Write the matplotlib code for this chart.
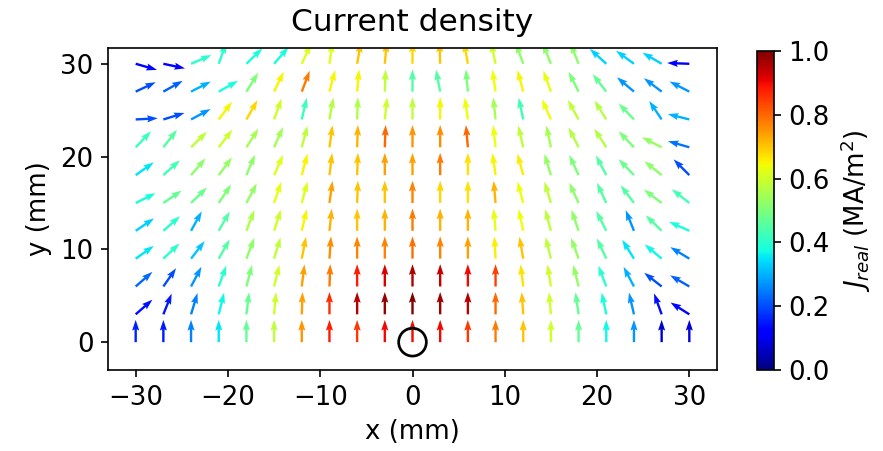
import numpy as np
import matplotlib
matplotlib.use("Agg")
import matplotlib.pyplot as plt
from matplotlib.patches import Circle

# grid positions (mm)
x_vals = [-30, -27, -24, -21, -18, -15, -12, -9, -6, -3, 0, 3, 6, 9, 12, 15, 18, 21, 24, 27, 30]
y_vals = [0, 3, 6, 9, 12, 15, 18, 21, 24, 27, 30]

# arrow directions (degrees, counter-clockwise from +x), one row per y value
ang_y0 = [90]*21
ang_y3 = [41, 68, 73, 76, 83, 85, 88, 90, 90, 90, 90, 90, 90, 90, 94, 95, 98, 102, 103, 110, 148]
ang_y6 = [41, 55, 62, 70, 75, 76, 83, 88, 90, 90, 90, 90, 90, 90, 97, 99, 104, 111, 118, 142, 150]
ang_y9 = [35, 43, 52, 60, 69, 73, 79, 86, 90, 90, 90, 90, 90, 93, 100, 104, 110, 115, 122, 140, 149]
ang_y12 = [34, 41, 61, 60, 69, 72, 77, 84, 90, 90, 90, 90, 90, 95, 102, 105, 109, 117, 112, 136, 156]
ang_y15 = [26, 34, 44, 56, 62, 71, 75, 82, 88, 90, 90, 90, 90, 95, 105, 107, 115, 115, 127, 143, 142]
ang_y18 = [35, 42, 49, 53, 67, 66, 75, 83, 88, 90, 90, 90, 90, 98, 105, 107, 115, 118, 134, 141, 135]
ang_y21 = [46, 52, 44, 52, 57, 66, 75, 82, 88, 88, 90, 90, 95, 96, 103, 102, 117, 123, 134, 153, 164]
ang_y24 = [3, 17, 28, 53, 60, 70, 77, 80, 88, 84, 90, 90, 98, 96, 102, 114, 119, 122, 134, 124, 166]
ang_y27 = [25, 29, 27, 29, 58, 64, 69, 75, 85, 88, 90, 101, 95, 98, 105, 110, 117, 128, 140, 143, 153]
ang_y30 = [-16, -12, 23, 70, 44, 49, 65, 82, 80, 85, 90, 92, 100, 102, 110, 112, 112, 138, 144, 150, 178]

# current density magnitude (MA/m^2)
mag_y0 = [0.16, 0.15, 0.25, 0.35, 0.47, 0.58, 0.75, 0.88, 0.85, 0.9, 0.9, 0.9, 0.85, 0.78, 0.7, 0.6, 0.47, 0.37, 0.27, 0.07, 0.08]
mag_y3 = [0.14, 0.15, 0.25, 0.37, 0.47, 0.6, 0.74, 0.86, 0.95, 0.98, 1.0, 0.97, 0.95, 0.8, 0.7, 0.6, 0.47, 0.38, 0.27, 0.14, 0.13]
mag_y6 = [0.23, 0.2, 0.27, 0.4, 0.5, 0.6, 0.74, 0.78, 0.88, 0.92, 0.96, 0.94, 0.9, 0.84, 0.67, 0.6, 0.53, 0.4, 0.3, 0.2, 0.22]
mag_y9 = [0.35, 0.4, 0.32, 0.45, 0.52, 0.58, 0.7, 0.76, 0.77, 0.77, 0.79, 0.77, 0.74, 0.66, 0.7, 0.58, 0.53, 0.45, 0.35, 0.37, 0.25]
mag_y12 = [0.33, 0.4, 0.3, 0.45, 0.56, 0.6, 0.65, 0.72, 0.7, 0.72, 0.78, 0.72, 0.72, 0.63, 0.64, 0.58, 0.52, 0.45, 0.27, 0.45, 0.38]
mag_y15 = [0.38, 0.47, 0.48, 0.5, 0.53, 0.63, 0.62, 0.74, 0.7, 0.7, 0.77, 0.68, 0.67, 0.72, 0.64, 0.58, 0.52, 0.45, 0.45, 0.5, 0.43]
mag_y18 = [0.35, 0.43, 0.52, 0.53, 0.52, 0.62, 0.65, 0.7, 0.7, 0.74, 0.74, 0.78, 0.67, 0.65, 0.66, 0.53, 0.5, 0.45, 0.48, 0.52, 0.2]
mag_y21 = [0.42, 0.45, 0.58, 0.6, 0.55, 0.55, 0.58, 0.7, 0.72, 0.8, 0.75, 0.76, 0.8, 0.64, 0.58, 0.55, 0.57, 0.57, 0.5, 0.53, 0.24]
mag_y24 = [0.2, 0.2, 0.27, 0.65, 0.68, 0.6, 0.42, 0.57, 0.56, 0.6, 0.58, 0.65, 0.64, 0.55, 0.43, 0.64, 0.58, 0.57, 0.48, 0.3, 0.3]
mag_y27 = [0.2, 0.22, 0.3, 0.38, 0.5, 0.65, 0.78, 0.65, 0.65, 0.58, 0.45, 0.45, 0.5, 0.64, 0.65, 0.63, 0.5, 0.47, 0.27, 0.27, 0.27]
mag_y30 = [0.12, 0.12, 0.4, 0.4, 0.38, 0.38, 0.62, 0.62, 0.7, 0.7, 0.68, 0.7, 0.68, 0.6, 0.52, 0.52, 0.52, 0.33, 0.33, 0.33, 0.12]

x_ticks = [-30, -20, -10, 0, 10, 20, 30]
y_ticks = [0, 10, 20, 30]
cb_ticks = [0.0, 0.2, 0.4, 0.6, 0.8, 1.0]

angles = np.array([ang_y0, ang_y3, ang_y6, ang_y9, ang_y12, ang_y15, ang_y18,
                   ang_y21, ang_y24, ang_y27, ang_y30], dtype=float)
mags = np.array([mag_y0, mag_y3, mag_y6, mag_y9, mag_y12, mag_y15, mag_y18,
                 mag_y21, mag_y24, mag_y27, mag_y30], dtype=float)
X, Y = np.meshgrid(x_vals, y_vals)
U = np.cos(np.deg2rad(angles))
V = np.sin(np.deg2rad(angles))

plt.rcParams['font.size'] = 12.5

W, H = 883, 451
fig = plt.figure(figsize=(W/150, H/150), dpi=150)
ax = fig.add_axes([108/W, 1-370/H, 609/W, 322/H])
arrow_len = 2.4
q = ax.quiver(X, Y, U, V, mags, cmap='jet', clim=(0, 1),
              angles='xy', scale_units='xy', scale=1/arrow_len,
              width=0.0039, headwidth=3, headlength=4.5, headaxislength=4)
ax.add_patch(Circle((0, 0), 1.5, fill=False, edgecolor='black', lw=1.3, zorder=5))
ax.set_xlim(-33, 33)
ax.set_ylim(-3, 31.7)
ax.set_xticks(x_ticks)
ax.set_yticks(y_ticks)
ax.tick_params(labelsize=12.5)
ax.set_xlabel('x (mm)', fontsize=12.5)
ax.set_ylabel('y (mm)', fontsize=12.5)
ax.set_title('Current density', fontsize=15, pad=8)

cax = fig.add_axes([757/W, 1-370/H, 17/W, 319/H])
cb = fig.colorbar(q, cax=cax, ticks=cb_ticks)
cb.ax.tick_params(labelsize=12.5)
cb.set_label(r'$J_{real}$ (MA/m$^2$)', fontsize=12.5)

fig.savefig('out.png', dpi=150)
